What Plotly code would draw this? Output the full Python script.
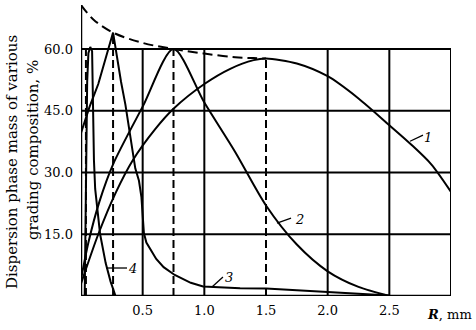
import plotly.graph_objects as go

# ---- data ----
r1 = [0, 0.14, 0.28, 0.42, 0.6, 0.75, 1.0, 1.21, 1.4, 1.5, 1.75, 2.0, 2.25, 2.5, 2.67, 2.84, 3.0]
m1 = [3, 15, 25, 33, 40.5, 45.5, 51.5, 55.2, 57.3, 57.7, 56.5, 53.4, 48.0, 41.5, 37.0, 32.0, 25.3]

r2 = [0, 0.06, 0.15, 0.26, 0.5, 0.75, 1.0, 1.25, 1.5, 1.75, 2.0, 2.25, 2.5]
m2 = [4, 13, 23, 32, 46, 60, 47, 35, 22, 12.5, 6, 2.2, 0]

r3 = [0, 0.07, 0.14, 0.2, 0.26, 0.325, 0.36, 0.44, 0.47, 0.49, 0.5, 0.51, 0.53, 0.56, 0.61, 0.67, 0.76, 0.89, 0.99, 1.29, 1.5, 2.0, 2.5]
m3 = [39.6, 46, 51.5, 57.5, 64, 52, 46.5, 31, 28, 24, 19, 15.3, 13, 11.5, 9.0, 7, 5.1, 3.2, 2.3, 1.9, 1.8, 1.0, 0.1]

r4 = [0.03, 0.04, 0.05, 0.06, 0.075, 0.09, 0.095, 0.1, 0.105, 0.115, 0.155, 0.2, 0.24, 0.28]
m4 = [0, 30, 52, 59, 60.5, 59.5, 50, 40, 33, 26, 15, 8, 3.5, 0]

r_env = [0, 0.1, 0.26, 0.5, 0.75, 1.0, 1.25, 1.4, 1.5]
m_env = [70.7, 67.2, 64, 61.5, 60, 58.9, 58.0, 57.8, 57.7]

peak_r = [0.04, 0.26, 0.75, 1.5]
peak_m = [60, 64, 60, 57.7]

y_ticks = [15, 30, 45, 60]
y_ticktext = ["15.0", "30.0", "45.0", "60.0"]
x_ticks = [0.5, 1.0, 1.5, 2.0, 2.5]
x_ticktext = ["0.5", "1.0", "1.5", "2.0", "2.5"]
grid_x = [0.5, 1.0, 2.0, 2.5, 3.0]
grid_y = [15, 30, 45, 60]

curve_labels = ["1", "2", "3", "4"]
label_x = [2.814, 1.768, 1.2, 0.414]
label_y = [38.6, 18.5, 4.4, 6.6]
ptr_x0 = [2.668, 1.589, 1.062, 0.203]
ptr_y0 = [37.6, 17.7, 2.2, 6.8]
ptr_x1 = [2.773, 1.703, 1.151, 0.373]
ptr_y1 = [39.1, 18.9, 4.6, 6.8]

XMAX = 3.0
YMAX = 70.7
FONT = "DejaVu Serif"
LW = 2

fig = go.Figure()

def add_curve(x, y, shape="spline"):
    fig.add_trace(go.Scatter(x=x, y=y, mode="lines",
                             line=dict(color="black", width=LW, shape=shape, smoothing=0.8),
                             showlegend=False, hoverinfo="skip"))

add_curve(r1, m1)
add_curve(r2, m2)
add_curve(r3, m3, "linear")
add_curve(r4, m4, "linear")
fig.add_trace(go.Scatter(x=r_env, y=m_env, mode="lines",
                         line=dict(color="black", width=LW, dash="10px,5px", shape="spline"),
                         showlegend=False, hoverinfo="skip"))

shapes = []
for gx in grid_x:
    shapes.append(dict(type="line", xref="x", yref="y", x0=gx, x1=gx, y0=0, y1=60,
                       line=dict(color="black", width=LW), layer="below"))
for gy in grid_y:
    shapes.append(dict(type="line", xref="x", yref="y", x0=0, x1=XMAX, y0=gy, y1=gy,
                       line=dict(color="black", width=LW), layer="below"))
shapes.append(dict(type="line", xref="x", yref="y", x0=0, x1=0, y0=0, y1=YMAX,
                   line=dict(color="black", width=2.5)))
shapes.append(dict(type="line", xref="x", yref="y", x0=0, x1=XMAX, y0=0, y1=0,
                   line=dict(color="black", width=2.5)))
for px, pm in zip(peak_r, peak_m):
    shapes.append(dict(type="line", xref="x", yref="y", x0=px, x1=px, y0=0, y1=pm,
                       line=dict(color="black", width=LW, dash="8px,4px")))
for a, b, c, d in zip(ptr_x0, ptr_y0, ptr_x1, ptr_y1):
    shapes.append(dict(type="line", xref="x", yref="y", x0=a, y0=b, x1=c, y1=d,
                       line=dict(color="black", width=1.3)))

annotations = []
for t, lx, ly in zip(curve_labels, label_x, label_y):
    annotations.append(dict(x=lx, y=ly, xref="x", yref="y", text="<i>%s</i>" % t,
                            showarrow=False, font=dict(family=FONT, size=13, color="black")))
annotations.append(dict(x=-0.1865, y=0.4605, xref="paper", yref="paper",
                        text="Dispersion phase mass of various", textangle=-90,
                        showarrow=False, xanchor="center", yanchor="middle",
                        font=dict(family=FONT, size=15, color="black")))
annotations.append(dict(x=-0.1297, y=0.5017, xref="paper", yref="paper",
                        text="grading composition, %", textangle=-90,
                        showarrow=False, xanchor="center", yanchor="middle",
                        font=dict(family=FONT, size=15, color="black")))
annotations.append(dict(x=1.062, y=-0.065, xref="paper", yref="paper",
                        text="<b><i>R</i></b>, mm", showarrow=False,
                        xanchor="right", yanchor="middle",
                        font=dict(family=FONT, size=13, color="black")))

fig.update_layout(
    width=476, height=330,
    margin=dict(l=81, r=25, t=5, b=34),
    paper_bgcolor="white", plot_bgcolor="white",
    shapes=shapes, annotations=annotations,
    xaxis=dict(range=[0, XMAX], tickvals=x_ticks, ticktext=x_ticktext,
               showgrid=False, zeroline=False, showline=False, ticks="",
               ticklabelstandoff=5,
               tickfont=dict(family=FONT, size=13, color="black")),
    yaxis=dict(range=[0, YMAX], tickvals=y_ticks, ticktext=y_ticktext,
               showgrid=False, zeroline=False, showline=False, ticks="",
               ticklabelstandoff=7,
               tickfont=dict(family=FONT, size=13, color="black")),
)

fig.write_html("out.html", config={"displayModeBar": False},
               post_script="document.body.style.margin='0';")
